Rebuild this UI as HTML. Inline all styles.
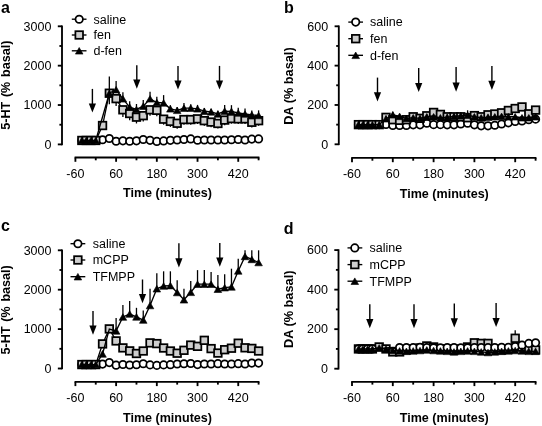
<!DOCTYPE html>
<html><head><meta charset="utf-8"><style>
html,body{margin:0;padding:0;background:#fff;}
svg{display:block;filter:blur(0.3px);}
text{font-family:"Liberation Sans",sans-serif;fill:#000;}
.pl{font-size:16px;font-weight:bold;}
.tk{font-size:12.5px;}
.lg{font-size:12.5px;}
.tt{font-size:12.55px;font-weight:bold;}
.ty{font-size:12.6px;font-weight:bold;word-spacing:1.2px;}
.ty2{font-size:12.75px;font-weight:bold;}
.ax{stroke:#000;stroke-width:1.85;fill:none;}
.ln{stroke:#000;stroke-width:1.35;fill:none;}
.eb{stroke:#000;stroke-width:1.3;fill:none;}
.ar{stroke:#000;stroke-width:1.4;fill:none;}
.ah{fill:#000;}
.mc{fill:#fff;stroke:#000;stroke-width:1.75;}
.ms{fill:#cecece;stroke:#000;stroke-width:1.75;}
.mt{fill:#000;stroke:#000;stroke-width:0.6;stroke-linejoin:miter;}
</style></head><body>
<svg width="542" height="426" viewBox="0 0 542 426">
<rect width="542" height="426" fill="#fff"/>
<text x="1" y="13.3" class="pl">a</text>
<path d="M62 25.5V145.2" class="ax"/>
<path d="M57.8 144.4H62" class="ax"/>
<text x="51.4" y="148.7" class="tk" text-anchor="end">0</text>
<path d="M57.8 105.03H62" class="ax"/>
<text x="51.4" y="109.33" class="tk" text-anchor="end">1000</text>
<path d="M57.8 65.67H62" class="ax"/>
<text x="51.4" y="69.97" class="tk" text-anchor="end">2000</text>
<path d="M57.8 26.3H62" class="ax"/>
<text x="51.4" y="30.6" class="tk" text-anchor="end">3000</text>
<path d="M59.4 124.72H62" class="ax"/>
<path d="M59.4 85.35H62" class="ax"/>
<path d="M59.4 45.98H62" class="ax"/>
<text transform="translate(10.3 85.2) rotate(-90)" class="ty" text-anchor="middle">5-HT (% basal)</text>
<path d="M74.6 157.5H259.4" class="ax"/>
<path d="M75.4 157.5V161.8" class="ax"/>
<text x="75.4" y="177.8" class="tk" text-anchor="middle">-60</text>
<path d="M95.76 157.5V160.3" class="ax"/>
<path d="M116.11 157.5V161.8" class="ax"/>
<text x="116.11" y="177.8" class="tk" text-anchor="middle">60</text>
<path d="M136.47 157.5V160.3" class="ax"/>
<path d="M156.82 157.5V161.8" class="ax"/>
<text x="156.82" y="177.8" class="tk" text-anchor="middle">180</text>
<path d="M177.18 157.5V160.3" class="ax"/>
<path d="M197.53 157.5V161.8" class="ax"/>
<text x="197.53" y="177.8" class="tk" text-anchor="middle">300</text>
<path d="M217.89 157.5V160.3" class="ax"/>
<path d="M238.24 157.5V161.8" class="ax"/>
<text x="238.24" y="177.8" class="tk" text-anchor="middle">420</text>
<path d="M258.6 157.5V160.3" class="ax"/>
<text x="167.5" y="197.4" class="tt" text-anchor="middle">Time (minutes)</text>
<path d="M71.8 19.2H86.5" class="ln"/>
<circle cx="79.2" cy="19.2" r="3.7" class="mc"/>
<text x="93.5" y="23.55" class="lg">saline</text>
<path d="M71.8 35H86.5" class="ln"/>
<rect x="75.4" y="31.2" width="7.6" height="7.6" class="ms"/>
<text x="93.5" y="39.35" class="lg">fen</text>
<path d="M71.8 50.8H86.5" class="ln"/>
<path d="M79.2 47.5L83 54.1L75.4 54.1Z" class="mt"/>
<text x="93.5" y="55.15" class="lg">d-fen</text>
<path d="M92.4 88.9V106.6" class="ar"/>
<path d="M88.8 103.4L96 103.4L92.4 112.6Z" class="ah"/>
<path d="M136.8 65.2V82.8" class="ar"/>
<path d="M133.2 79.6L140.4 79.6L136.8 88.8Z" class="ah"/>
<path d="M178 65.9V83.6" class="ar"/>
<path d="M174.4 80.4L181.6 80.4L178 89.6Z" class="ah"/>
<path d="M219.5 65.9V83.6" class="ar"/>
<path d="M215.9 80.4L223.1 80.4L219.5 89.6Z" class="ah"/>
<path d="M81.85 140.46L86.26 140.46L91.01 140.46L95.76 140.46L102.54 139.79L109.33 138.5L116.11 141.21L122.9 140.82L129.68 141.21L136.47 140.82L143.25 139.48L150.04 140.31L156.82 141.41L163.61 140.9L170.39 140.31L177.18 139.99L183.96 139.52L190.75 138.89L197.53 140.27L204.32 139.99L211.1 139.99L217.89 139.99L224.67 139.99L231.46 139.72L238.24 139.52L245.03 139.99L251.81 139.12L258.6 138.89" class="ln"/>
<circle cx="81.85" cy="140.46" r="3.7" class="mc"/>
<circle cx="86.26" cy="140.46" r="3.7" class="mc"/>
<circle cx="91.01" cy="140.46" r="3.7" class="mc"/>
<circle cx="95.76" cy="140.46" r="3.7" class="mc"/>
<circle cx="102.54" cy="139.79" r="3.7" class="mc"/>
<circle cx="109.33" cy="138.5" r="3.7" class="mc"/>
<circle cx="116.11" cy="141.21" r="3.7" class="mc"/>
<circle cx="122.9" cy="140.82" r="3.7" class="mc"/>
<circle cx="129.68" cy="141.21" r="3.7" class="mc"/>
<circle cx="136.47" cy="140.82" r="3.7" class="mc"/>
<circle cx="143.25" cy="139.48" r="3.7" class="mc"/>
<circle cx="150.04" cy="140.31" r="3.7" class="mc"/>
<circle cx="156.82" cy="141.41" r="3.7" class="mc"/>
<circle cx="163.61" cy="140.9" r="3.7" class="mc"/>
<circle cx="170.39" cy="140.31" r="3.7" class="mc"/>
<circle cx="177.18" cy="139.99" r="3.7" class="mc"/>
<circle cx="183.96" cy="139.52" r="3.7" class="mc"/>
<circle cx="190.75" cy="138.89" r="3.7" class="mc"/>
<circle cx="197.53" cy="140.27" r="3.7" class="mc"/>
<circle cx="204.32" cy="139.99" r="3.7" class="mc"/>
<circle cx="211.1" cy="139.99" r="3.7" class="mc"/>
<circle cx="217.89" cy="139.99" r="3.7" class="mc"/>
<circle cx="224.67" cy="139.99" r="3.7" class="mc"/>
<circle cx="231.46" cy="139.72" r="3.7" class="mc"/>
<circle cx="238.24" cy="139.52" r="3.7" class="mc"/>
<circle cx="245.03" cy="139.99" r="3.7" class="mc"/>
<circle cx="251.81" cy="139.12" r="3.7" class="mc"/>
<circle cx="258.6" cy="138.89" r="3.7" class="mc"/>
<path d="M102.54 125.54V129.48" class="eb"/>
<path d="M109.33 93.22V104.25" class="eb"/>
<path d="M116.11 98.62V105.9" class="eb"/>
<path d="M122.9 109.8V116.88" class="eb"/>
<path d="M129.68 113.5V120.19" class="eb"/>
<path d="M136.47 117.16V123.46" class="eb"/>
<path d="M143.25 115.66V121.57" class="eb"/>
<path d="M150.04 109.8V115.7" class="eb"/>
<path d="M156.82 110.31V116.21" class="eb"/>
<path d="M163.61 119.17V124.68" class="eb"/>
<path d="M170.39 121.37V126.88" class="eb"/>
<path d="M177.18 123.26V128.77" class="eb"/>
<path d="M183.96 119.56V124.68" class="eb"/>
<path d="M190.75 119.56V124.68" class="eb"/>
<path d="M197.53 118.85V123.97" class="eb"/>
<path d="M204.32 120.66V125.78" class="eb"/>
<path d="M211.1 122.08V127.2" class="eb"/>
<path d="M217.89 123.46V128.57" class="eb"/>
<path d="M224.67 120.07V125.19" class="eb"/>
<path d="M231.46 118.58V123.69" class="eb"/>
<path d="M238.24 118.85V123.97" class="eb"/>
<path d="M245.03 118.85V123.97" class="eb"/>
<path d="M251.81 122.28V127.39" class="eb"/>
<path d="M258.6 120.66V125.78" class="eb"/>
<path d="M81.85 140.46L86.26 140.46L91.01 140.46L95.76 140.46L102.54 125.54L109.33 93.22L116.11 98.62L122.9 109.8L129.68 113.5L136.47 117.16L143.25 115.66L150.04 109.8L156.82 110.31L163.61 119.17L170.39 121.37L177.18 123.26L183.96 119.56L190.75 119.56L197.53 118.85L204.32 120.66L211.1 122.08L217.89 123.46L224.67 120.07L231.46 118.58L238.24 118.85L245.03 118.85L251.81 122.28L258.6 120.66" class="ln"/>
<rect x="78.05" y="136.66" width="7.6" height="7.6" class="ms"/>
<rect x="82.46" y="136.66" width="7.6" height="7.6" class="ms"/>
<rect x="87.21" y="136.66" width="7.6" height="7.6" class="ms"/>
<rect x="91.96" y="136.66" width="7.6" height="7.6" class="ms"/>
<rect x="98.74" y="121.74" width="7.6" height="7.6" class="ms"/>
<rect x="105.53" y="89.42" width="7.6" height="7.6" class="ms"/>
<rect x="112.31" y="94.82" width="7.6" height="7.6" class="ms"/>
<rect x="119.1" y="106" width="7.6" height="7.6" class="ms"/>
<rect x="125.88" y="109.7" width="7.6" height="7.6" class="ms"/>
<rect x="132.67" y="113.36" width="7.6" height="7.6" class="ms"/>
<rect x="139.45" y="111.86" width="7.6" height="7.6" class="ms"/>
<rect x="146.24" y="106" width="7.6" height="7.6" class="ms"/>
<rect x="153.02" y="106.51" width="7.6" height="7.6" class="ms"/>
<rect x="159.81" y="115.37" width="7.6" height="7.6" class="ms"/>
<rect x="166.59" y="117.57" width="7.6" height="7.6" class="ms"/>
<rect x="173.38" y="119.46" width="7.6" height="7.6" class="ms"/>
<rect x="180.16" y="115.76" width="7.6" height="7.6" class="ms"/>
<rect x="186.95" y="115.76" width="7.6" height="7.6" class="ms"/>
<rect x="193.73" y="115.05" width="7.6" height="7.6" class="ms"/>
<rect x="200.52" y="116.86" width="7.6" height="7.6" class="ms"/>
<rect x="207.3" y="118.28" width="7.6" height="7.6" class="ms"/>
<rect x="214.09" y="119.66" width="7.6" height="7.6" class="ms"/>
<rect x="220.87" y="116.27" width="7.6" height="7.6" class="ms"/>
<rect x="227.66" y="114.78" width="7.6" height="7.6" class="ms"/>
<rect x="234.44" y="115.05" width="7.6" height="7.6" class="ms"/>
<rect x="241.23" y="115.05" width="7.6" height="7.6" class="ms"/>
<rect x="248.01" y="118.48" width="7.6" height="7.6" class="ms"/>
<rect x="254.8" y="116.86" width="7.6" height="7.6" class="ms"/>
<path d="M109.33 93.22V76.57" class="eb"/>
<path d="M116.11 89.68V80.9" class="eb"/>
<path d="M122.9 98.81V92.36" class="eb"/>
<path d="M129.68 107.08V101.18" class="eb"/>
<path d="M136.47 109.48V103.97" class="eb"/>
<path d="M143.25 106.14V99.96" class="eb"/>
<path d="M150.04 98.81V91.81" class="eb"/>
<path d="M156.82 102.51V96.73" class="eb"/>
<path d="M163.61 102.91V95.11" class="eb"/>
<path d="M170.39 108.81V105.27" class="eb"/>
<path d="M177.18 110.31V107.16" class="eb"/>
<path d="M183.96 108.1V102.91" class="eb"/>
<path d="M190.75 108.1V104.17" class="eb"/>
<path d="M197.53 108.81V104.88" class="eb"/>
<path d="M204.32 111.21V108.06" class="eb"/>
<path d="M211.1 111.88V108.73" class="eb"/>
<path d="M217.89 113.97V110.82" class="eb"/>
<path d="M224.67 111.1V104.92" class="eb"/>
<path d="M231.46 111.33V105.15" class="eb"/>
<path d="M238.24 112.99V107.87" class="eb"/>
<path d="M245.03 113.97V108.46" class="eb"/>
<path d="M251.81 114.88V110.54" class="eb"/>
<path d="M258.6 115.47V110.35" class="eb"/>
<path d="M81.85 140.46L86.26 140.46L91.01 140.46L95.76 140.46L109.33 93.22L116.11 89.68L122.9 98.81L129.68 107.08L136.47 109.48L143.25 106.14L150.04 98.81L156.82 102.51L163.61 102.91L170.39 108.81L177.18 110.31L183.96 108.1L190.75 108.1L197.53 108.81L204.32 111.21L211.1 111.88L217.89 113.97L224.67 111.1L231.46 111.33L238.24 112.99L245.03 113.97L251.81 114.88L258.6 115.47" class="ln"/>
<path d="M81.85 137.16L85.65 143.76L78.05 143.76Z" class="mt"/>
<path d="M86.26 137.16L90.06 143.76L82.46 143.76Z" class="mt"/>
<path d="M91.01 137.16L94.81 143.76L87.21 143.76Z" class="mt"/>
<path d="M95.76 137.16L99.56 143.76L91.96 143.76Z" class="mt"/>
<path d="M109.33 89.92L113.13 96.52L105.53 96.52Z" class="mt"/>
<path d="M116.11 86.38L119.91 92.98L112.31 92.98Z" class="mt"/>
<path d="M122.9 95.51L126.7 102.11L119.1 102.11Z" class="mt"/>
<path d="M129.68 103.78L133.48 110.38L125.88 110.38Z" class="mt"/>
<path d="M136.47 106.18L140.27 112.78L132.67 112.78Z" class="mt"/>
<path d="M143.25 102.84L147.05 109.44L139.45 109.44Z" class="mt"/>
<path d="M150.04 95.51L153.84 102.11L146.24 102.11Z" class="mt"/>
<path d="M156.82 99.21L160.62 105.81L153.02 105.81Z" class="mt"/>
<path d="M163.61 99.61L167.41 106.21L159.81 106.21Z" class="mt"/>
<path d="M170.39 105.51L174.19 112.11L166.59 112.11Z" class="mt"/>
<path d="M177.18 107.01L180.98 113.61L173.38 113.61Z" class="mt"/>
<path d="M183.96 104.8L187.76 111.4L180.16 111.4Z" class="mt"/>
<path d="M190.75 104.8L194.55 111.4L186.95 111.4Z" class="mt"/>
<path d="M197.53 105.51L201.33 112.11L193.73 112.11Z" class="mt"/>
<path d="M204.32 107.91L208.12 114.51L200.52 114.51Z" class="mt"/>
<path d="M211.1 108.58L214.9 115.18L207.3 115.18Z" class="mt"/>
<path d="M217.89 110.67L221.69 117.27L214.09 117.27Z" class="mt"/>
<path d="M224.67 107.8L228.47 114.4L220.87 114.4Z" class="mt"/>
<path d="M231.46 108.03L235.26 114.63L227.66 114.63Z" class="mt"/>
<path d="M238.24 109.69L242.04 116.29L234.44 116.29Z" class="mt"/>
<path d="M245.03 110.67L248.83 117.27L241.23 117.27Z" class="mt"/>
<path d="M251.81 111.58L255.61 118.17L248.01 118.17Z" class="mt"/>
<path d="M258.6 112.17L262.4 118.77L254.8 118.77Z" class="mt"/>
<text x="284" y="13.3" class="pl">b</text>
<path d="M338.8 25.5V145.1" class="ax"/>
<path d="M334.6 144.3H338.8" class="ax"/>
<text x="328.2" y="148.6" class="tk" text-anchor="end">0</text>
<path d="M334.6 104.97H338.8" class="ax"/>
<text x="328.2" y="109.27" class="tk" text-anchor="end">200</text>
<path d="M334.6 65.63H338.8" class="ax"/>
<text x="328.2" y="69.93" class="tk" text-anchor="end">400</text>
<path d="M334.6 26.3H338.8" class="ax"/>
<text x="328.2" y="30.6" class="tk" text-anchor="end">600</text>
<path d="M336.2 124.63H338.8" class="ax"/>
<path d="M336.2 85.3H338.8" class="ax"/>
<path d="M336.2 45.97H338.8" class="ax"/>
<text transform="translate(293.3 86.1) rotate(-90)" class="ty2" text-anchor="middle">DA (% basal)</text>
<path d="M351.2 157.9H536.4" class="ax"/>
<path d="M352 157.9V162.2" class="ax"/>
<text x="352" y="178.2" class="tk" text-anchor="middle">-60</text>
<path d="M372.4 157.9V160.7" class="ax"/>
<path d="M392.8 157.9V162.2" class="ax"/>
<text x="392.8" y="178.2" class="tk" text-anchor="middle">60</text>
<path d="M413.2 157.9V160.7" class="ax"/>
<path d="M433.6 157.9V162.2" class="ax"/>
<text x="433.6" y="178.2" class="tk" text-anchor="middle">180</text>
<path d="M454 157.9V160.7" class="ax"/>
<path d="M474.4 157.9V162.2" class="ax"/>
<text x="474.4" y="178.2" class="tk" text-anchor="middle">300</text>
<path d="M494.8 157.9V160.7" class="ax"/>
<path d="M515.2 157.9V162.2" class="ax"/>
<text x="515.2" y="178.2" class="tk" text-anchor="middle">420</text>
<path d="M535.6 157.9V160.7" class="ax"/>
<text x="444.3" y="197.8" class="tt" text-anchor="middle">Time (minutes)</text>
<path d="M348.3 22.1H363" class="ln"/>
<circle cx="355.7" cy="22.1" r="3.7" class="mc"/>
<text x="370" y="26.45" class="lg">saline</text>
<path d="M348.3 38.7H363" class="ln"/>
<rect x="351.9" y="34.9" width="7.6" height="7.6" class="ms"/>
<text x="370" y="43.05" class="lg">fen</text>
<path d="M348.3 55.3H363" class="ln"/>
<path d="M355.7 52L359.5 58.6L351.9 58.6Z" class="mt"/>
<text x="370" y="59.65" class="lg">d-fen</text>
<path d="M377.5 77.6V95.5" class="ar"/>
<path d="M373.9 92.3L381.1 92.3L377.5 101.5Z" class="ah"/>
<path d="M418.7 68.1V86.1" class="ar"/>
<path d="M415.1 82.9L422.3 82.9L418.7 92.1Z" class="ah"/>
<path d="M456.1 67.1V85.8" class="ar"/>
<path d="M452.5 82.6L459.7 82.6L456.1 91.8Z" class="ah"/>
<path d="M491.9 65.9V84" class="ar"/>
<path d="M488.3 80.8L495.5 80.8L491.9 90Z" class="ah"/>
<path d="M358.46 124.63L362.88 124.63L367.64 124.63L372.4 124.63L379.2 124.63L386 124.44L392.8 125.42L399.6 125.42L406.4 125.42L413.2 124.83L420 124.83L426.8 123.26L433.6 124.63L440.4 124.63L447.2 124.83L454 124.83L460.8 124.04L467.6 123.26L474.4 124.83L481.2 125.81L488 125.81L494.8 125.22L501.6 124.04L508.4 122.86L515.2 121.49L522 120.9L528.8 119.72L535.6 119.13" class="ln"/>
<circle cx="358.46" cy="124.63" r="3.7" class="mc"/>
<circle cx="362.88" cy="124.63" r="3.7" class="mc"/>
<circle cx="367.64" cy="124.63" r="3.7" class="mc"/>
<circle cx="372.4" cy="124.63" r="3.7" class="mc"/>
<circle cx="379.2" cy="124.63" r="3.7" class="mc"/>
<circle cx="386" cy="124.44" r="3.7" class="mc"/>
<circle cx="392.8" cy="125.42" r="3.7" class="mc"/>
<circle cx="399.6" cy="125.42" r="3.7" class="mc"/>
<circle cx="406.4" cy="125.42" r="3.7" class="mc"/>
<circle cx="413.2" cy="124.83" r="3.7" class="mc"/>
<circle cx="420" cy="124.83" r="3.7" class="mc"/>
<circle cx="426.8" cy="123.26" r="3.7" class="mc"/>
<circle cx="433.6" cy="124.63" r="3.7" class="mc"/>
<circle cx="440.4" cy="124.63" r="3.7" class="mc"/>
<circle cx="447.2" cy="124.83" r="3.7" class="mc"/>
<circle cx="454" cy="124.83" r="3.7" class="mc"/>
<circle cx="460.8" cy="124.04" r="3.7" class="mc"/>
<circle cx="467.6" cy="123.26" r="3.7" class="mc"/>
<circle cx="474.4" cy="124.83" r="3.7" class="mc"/>
<circle cx="481.2" cy="125.81" r="3.7" class="mc"/>
<circle cx="488" cy="125.81" r="3.7" class="mc"/>
<circle cx="494.8" cy="125.22" r="3.7" class="mc"/>
<circle cx="501.6" cy="124.04" r="3.7" class="mc"/>
<circle cx="508.4" cy="122.86" r="3.7" class="mc"/>
<circle cx="515.2" cy="121.49" r="3.7" class="mc"/>
<circle cx="522" cy="120.9" r="3.7" class="mc"/>
<circle cx="528.8" cy="119.72" r="3.7" class="mc"/>
<circle cx="535.6" cy="119.13" r="3.7" class="mc"/>
<path d="M379.2 124.63V126.21" class="eb"/>
<path d="M386 117.36V118.93" class="eb"/>
<path d="M392.8 119.72V121.29" class="eb"/>
<path d="M399.6 120.31V121.88" class="eb"/>
<path d="M406.4 119.72V121.29" class="eb"/>
<path d="M413.2 116.77V118.34" class="eb"/>
<path d="M420 118.34V119.91" class="eb"/>
<path d="M426.8 115.78V117.36" class="eb"/>
<path d="M433.6 112.44V114.01" class="eb"/>
<path d="M440.4 114.41V115.98" class="eb"/>
<path d="M447.2 116.77V118.34" class="eb"/>
<path d="M454 116.77V118.34" class="eb"/>
<path d="M460.8 116.77V118.34" class="eb"/>
<path d="M467.6 117.75V119.32" class="eb"/>
<path d="M474.4 115.59V117.16" class="eb"/>
<path d="M481.2 116.77V118.34" class="eb"/>
<path d="M488 114.8V116.37" class="eb"/>
<path d="M494.8 114.01V115.59" class="eb"/>
<path d="M501.6 112.83V114.41" class="eb"/>
<path d="M508.4 110.47V112.05" class="eb"/>
<path d="M515.2 108.51V110.08" class="eb"/>
<path d="M522 106.93V108.51" class="eb"/>
<path d="M528.8 113.82V115.39" class="eb"/>
<path d="M535.6 110.08V111.65" class="eb"/>
<path d="M358.46 124.63L362.88 124.63L367.64 124.63L372.4 124.63L379.2 124.63L386 117.36L392.8 119.72L399.6 120.31L406.4 119.72L413.2 116.77L420 118.34L426.8 115.78L433.6 112.44L440.4 114.41L447.2 116.77L454 116.77L460.8 116.77L467.6 117.75L474.4 115.59L481.2 116.77L488 114.8L494.8 114.01L501.6 112.83L508.4 110.47L515.2 108.51L522 106.93L528.8 113.82L535.6 110.08" class="ln"/>
<rect x="354.66" y="120.83" width="7.6" height="7.6" class="ms"/>
<rect x="359.08" y="120.83" width="7.6" height="7.6" class="ms"/>
<rect x="363.84" y="120.83" width="7.6" height="7.6" class="ms"/>
<rect x="368.6" y="120.83" width="7.6" height="7.6" class="ms"/>
<rect x="375.4" y="120.83" width="7.6" height="7.6" class="ms"/>
<rect x="382.2" y="113.56" width="7.6" height="7.6" class="ms"/>
<rect x="389" y="115.92" width="7.6" height="7.6" class="ms"/>
<rect x="395.8" y="116.51" width="7.6" height="7.6" class="ms"/>
<rect x="402.6" y="115.92" width="7.6" height="7.6" class="ms"/>
<rect x="409.4" y="112.97" width="7.6" height="7.6" class="ms"/>
<rect x="416.2" y="114.54" width="7.6" height="7.6" class="ms"/>
<rect x="423" y="111.98" width="7.6" height="7.6" class="ms"/>
<rect x="429.8" y="108.64" width="7.6" height="7.6" class="ms"/>
<rect x="436.6" y="110.61" width="7.6" height="7.6" class="ms"/>
<rect x="443.4" y="112.97" width="7.6" height="7.6" class="ms"/>
<rect x="450.2" y="112.97" width="7.6" height="7.6" class="ms"/>
<rect x="457" y="112.97" width="7.6" height="7.6" class="ms"/>
<rect x="463.8" y="113.95" width="7.6" height="7.6" class="ms"/>
<rect x="470.6" y="111.79" width="7.6" height="7.6" class="ms"/>
<rect x="477.4" y="112.97" width="7.6" height="7.6" class="ms"/>
<rect x="484.2" y="111" width="7.6" height="7.6" class="ms"/>
<rect x="491" y="110.21" width="7.6" height="7.6" class="ms"/>
<rect x="497.8" y="109.03" width="7.6" height="7.6" class="ms"/>
<rect x="504.6" y="106.67" width="7.6" height="7.6" class="ms"/>
<rect x="511.4" y="104.71" width="7.6" height="7.6" class="ms"/>
<rect x="518.2" y="103.13" width="7.6" height="7.6" class="ms"/>
<rect x="525" y="110.02" width="7.6" height="7.6" class="ms"/>
<rect x="531.8" y="106.28" width="7.6" height="7.6" class="ms"/>
<path d="M379.2 124.63V122.67" class="eb"/>
<path d="M386 118.73V115.78" class="eb"/>
<path d="M392.8 114.8V111.85" class="eb"/>
<path d="M399.6 116.37V114.01" class="eb"/>
<path d="M406.4 118.34V116.37" class="eb"/>
<path d="M413.2 117.75V115.78" class="eb"/>
<path d="M420 118.34V116.37" class="eb"/>
<path d="M426.8 116.77V114.41" class="eb"/>
<path d="M433.6 116.77V114.41" class="eb"/>
<path d="M440.4 117.75V115.78" class="eb"/>
<path d="M447.2 117.16V114.8" class="eb"/>
<path d="M454 116.37V113.42" class="eb"/>
<path d="M460.8 115.78V112.24" class="eb"/>
<path d="M467.6 115.19V110.28" class="eb"/>
<path d="M474.4 116.77V114.41" class="eb"/>
<path d="M481.2 117.75V115.78" class="eb"/>
<path d="M488 117.16V115.19" class="eb"/>
<path d="M494.8 116.77V114.8" class="eb"/>
<path d="M501.6 116.37V114.01" class="eb"/>
<path d="M508.4 116.77V114.41" class="eb"/>
<path d="M515.2 116.77V114.41" class="eb"/>
<path d="M522 117.75V115.39" class="eb"/>
<path d="M528.8 117.75V115.39" class="eb"/>
<path d="M535.6 116.77V114.41" class="eb"/>
<path d="M358.46 124.63L362.88 124.63L367.64 124.63L372.4 124.63L379.2 124.63L386 118.73L392.8 114.8L399.6 116.37L406.4 118.34L413.2 117.75L420 118.34L426.8 116.77L433.6 116.77L440.4 117.75L447.2 117.16L454 116.37L460.8 115.78L467.6 115.19L474.4 116.77L481.2 117.75L488 117.16L494.8 116.77L501.6 116.37L508.4 116.77L515.2 116.77L522 117.75L528.8 117.75L535.6 116.77" class="ln"/>
<path d="M358.46 121.33L362.26 127.93L354.66 127.93Z" class="mt"/>
<path d="M362.88 121.33L366.68 127.93L359.08 127.93Z" class="mt"/>
<path d="M367.64 121.33L371.44 127.93L363.84 127.93Z" class="mt"/>
<path d="M372.4 121.33L376.2 127.93L368.6 127.93Z" class="mt"/>
<path d="M379.2 121.33L383 127.93L375.4 127.93Z" class="mt"/>
<path d="M386 115.43L389.8 122.03L382.2 122.03Z" class="mt"/>
<path d="M392.8 111.5L396.6 118.1L389 118.1Z" class="mt"/>
<path d="M399.6 113.07L403.4 119.67L395.8 119.67Z" class="mt"/>
<path d="M406.4 115.04L410.2 121.64L402.6 121.64Z" class="mt"/>
<path d="M413.2 114.45L417 121.05L409.4 121.05Z" class="mt"/>
<path d="M420 115.04L423.8 121.64L416.2 121.64Z" class="mt"/>
<path d="M426.8 113.47L430.6 120.07L423 120.07Z" class="mt"/>
<path d="M433.6 113.47L437.4 120.07L429.8 120.07Z" class="mt"/>
<path d="M440.4 114.45L444.2 121.05L436.6 121.05Z" class="mt"/>
<path d="M447.2 113.86L451 120.46L443.4 120.46Z" class="mt"/>
<path d="M454 113.07L457.8 119.67L450.2 119.67Z" class="mt"/>
<path d="M460.8 112.48L464.6 119.08L457 119.08Z" class="mt"/>
<path d="M467.6 111.89L471.4 118.49L463.8 118.49Z" class="mt"/>
<path d="M474.4 113.47L478.2 120.07L470.6 120.07Z" class="mt"/>
<path d="M481.2 114.45L485 121.05L477.4 121.05Z" class="mt"/>
<path d="M488 113.86L491.8 120.46L484.2 120.46Z" class="mt"/>
<path d="M494.8 113.47L498.6 120.07L491 120.07Z" class="mt"/>
<path d="M501.6 113.07L505.4 119.67L497.8 119.67Z" class="mt"/>
<path d="M508.4 113.47L512.2 120.07L504.6 120.07Z" class="mt"/>
<path d="M515.2 113.47L519 120.07L511.4 120.07Z" class="mt"/>
<path d="M522 114.45L525.8 121.05L518.2 121.05Z" class="mt"/>
<path d="M528.8 114.45L532.6 121.05L525 121.05Z" class="mt"/>
<path d="M535.6 113.47L539.4 120.07L531.8 120.07Z" class="mt"/>
<text x="0.9" y="231" class="pl">c</text>
<path d="M62.05 249.5V369.3" class="ax"/>
<path d="M57.85 368.5H62.05" class="ax"/>
<text x="51.45" y="372.8" class="tk" text-anchor="end">0</text>
<path d="M57.85 329.1H62.05" class="ax"/>
<text x="51.45" y="333.4" class="tk" text-anchor="end">1000</text>
<path d="M57.85 289.7H62.05" class="ax"/>
<text x="51.45" y="294" class="tk" text-anchor="end">2000</text>
<path d="M57.85 250.3H62.05" class="ax"/>
<text x="51.45" y="254.6" class="tk" text-anchor="end">3000</text>
<path d="M59.45 348.8H62.05" class="ax"/>
<path d="M59.45 309.4H62.05" class="ax"/>
<path d="M59.45 270H62.05" class="ax"/>
<text transform="translate(10.3 309.8) rotate(-90)" class="ty" text-anchor="middle">5-HT (% basal)</text>
<path d="M74.6 381.8H259.4" class="ax"/>
<path d="M75.4 381.8V386.1" class="ax"/>
<text x="75.4" y="402.1" class="tk" text-anchor="middle">-60</text>
<path d="M95.76 381.8V384.6" class="ax"/>
<path d="M116.11 381.8V386.1" class="ax"/>
<text x="116.11" y="402.1" class="tk" text-anchor="middle">60</text>
<path d="M136.47 381.8V384.6" class="ax"/>
<path d="M156.82 381.8V386.1" class="ax"/>
<text x="156.82" y="402.1" class="tk" text-anchor="middle">180</text>
<path d="M177.18 381.8V384.6" class="ax"/>
<path d="M197.53 381.8V386.1" class="ax"/>
<text x="197.53" y="402.1" class="tk" text-anchor="middle">300</text>
<path d="M217.89 381.8V384.6" class="ax"/>
<path d="M238.24 381.8V386.1" class="ax"/>
<text x="238.24" y="402.1" class="tk" text-anchor="middle">420</text>
<path d="M258.6 381.8V384.6" class="ax"/>
<text x="167.5" y="421.7" class="tt" text-anchor="middle">Time (minutes)</text>
<path d="M70.5 243.7H85.3" class="ln"/>
<circle cx="77.9" cy="243.7" r="3.7" class="mc"/>
<text x="92.7" y="248.05" class="lg">saline</text>
<path d="M70.5 260H85.3" class="ln"/>
<rect x="74.1" y="256.2" width="7.6" height="7.6" class="ms"/>
<text x="92.7" y="264.35" class="lg">mCPP</text>
<path d="M70.5 276.7H85.3" class="ln"/>
<path d="M77.9 273.4L81.7 280L74.1 280Z" class="mt"/>
<text x="92.7" y="281.05" class="lg">TFMPP</text>
<path d="M93 311V328.7" class="ar"/>
<path d="M89.4 325.5L96.6 325.5L93 334.7Z" class="ah"/>
<path d="M142.5 279.5V297.2" class="ar"/>
<path d="M138.9 294L146.1 294L142.5 303.2Z" class="ah"/>
<path d="M178.9 243.3V261.4" class="ar"/>
<path d="M175.3 258.2L182.5 258.2L178.9 267.4Z" class="ah"/>
<path d="M219.8 243V260.7" class="ar"/>
<path d="M216.2 257.5L223.4 257.5L219.8 266.7Z" class="ah"/>
<path d="M81.85 364.56L86.26 364.56L91.01 364.56L95.76 364.56L102.54 364.09L109.33 362.59L116.11 365.19L122.9 364.48L129.68 364.99L136.47 364.8L143.25 363.77L150.04 364.88L156.82 365.39L163.61 364.88L170.39 364.64L177.18 364.01L183.96 363.73L190.75 363.5L197.53 364.56L204.32 364.01L211.1 364.01L217.89 363.69L224.67 364.01L231.46 364.01L238.24 363.69L245.03 364.01L251.81 363.1L258.6 363.1" class="ln"/>
<circle cx="81.85" cy="364.56" r="3.7" class="mc"/>
<circle cx="86.26" cy="364.56" r="3.7" class="mc"/>
<circle cx="91.01" cy="364.56" r="3.7" class="mc"/>
<circle cx="95.76" cy="364.56" r="3.7" class="mc"/>
<circle cx="102.54" cy="364.09" r="3.7" class="mc"/>
<circle cx="109.33" cy="362.59" r="3.7" class="mc"/>
<circle cx="116.11" cy="365.19" r="3.7" class="mc"/>
<circle cx="122.9" cy="364.48" r="3.7" class="mc"/>
<circle cx="129.68" cy="364.99" r="3.7" class="mc"/>
<circle cx="136.47" cy="364.8" r="3.7" class="mc"/>
<circle cx="143.25" cy="363.77" r="3.7" class="mc"/>
<circle cx="150.04" cy="364.88" r="3.7" class="mc"/>
<circle cx="156.82" cy="365.39" r="3.7" class="mc"/>
<circle cx="163.61" cy="364.88" r="3.7" class="mc"/>
<circle cx="170.39" cy="364.64" r="3.7" class="mc"/>
<circle cx="177.18" cy="364.01" r="3.7" class="mc"/>
<circle cx="183.96" cy="363.73" r="3.7" class="mc"/>
<circle cx="190.75" cy="363.5" r="3.7" class="mc"/>
<circle cx="197.53" cy="364.56" r="3.7" class="mc"/>
<circle cx="204.32" cy="364.01" r="3.7" class="mc"/>
<circle cx="211.1" cy="364.01" r="3.7" class="mc"/>
<circle cx="217.89" cy="363.69" r="3.7" class="mc"/>
<circle cx="224.67" cy="364.01" r="3.7" class="mc"/>
<circle cx="231.46" cy="364.01" r="3.7" class="mc"/>
<circle cx="238.24" cy="363.69" r="3.7" class="mc"/>
<circle cx="245.03" cy="364.01" r="3.7" class="mc"/>
<circle cx="251.81" cy="363.1" r="3.7" class="mc"/>
<circle cx="258.6" cy="363.1" r="3.7" class="mc"/>
<path d="M102.54 343.91V346.67" class="eb"/>
<path d="M109.33 328.9V331.66" class="eb"/>
<path d="M116.11 340.92V343.68" class="eb"/>
<path d="M122.9 347.89V350.65" class="eb"/>
<path d="M129.68 350.89V353.65" class="eb"/>
<path d="M136.47 353.49V356.25" class="eb"/>
<path d="M143.25 351.01V353.76" class="eb"/>
<path d="M150.04 342.89V345.65" class="eb"/>
<path d="M156.82 343.6V346.36" class="eb"/>
<path d="M163.61 348.01V350.77" class="eb"/>
<path d="M170.39 351.01V353.76" class="eb"/>
<path d="M177.18 353.21V355.97" class="eb"/>
<path d="M183.96 350.3V353.06" class="eb"/>
<path d="M190.75 345.1V347.85" class="eb"/>
<path d="M197.53 346.32V349.08" class="eb"/>
<path d="M204.32 340.33V343.09" class="eb"/>
<path d="M211.1 348.6V351.36" class="eb"/>
<path d="M217.89 353.06V355.81" class="eb"/>
<path d="M224.67 349.71V352.46" class="eb"/>
<path d="M231.46 348.21V350.97" class="eb"/>
<path d="M238.24 343.21V345.96" class="eb"/>
<path d="M245.03 347.81V350.57" class="eb"/>
<path d="M251.81 348.41V351.16" class="eb"/>
<path d="M258.6 351.01V353.76" class="eb"/>
<path d="M81.85 364.56L86.26 364.56L91.01 364.56L95.76 364.56L102.54 343.91L109.33 328.9L116.11 340.92L122.9 347.89L129.68 350.89L136.47 353.49L143.25 351.01L150.04 342.89L156.82 343.6L163.61 348.01L170.39 351.01L177.18 353.21L183.96 350.3L190.75 345.1L197.53 346.32L204.32 340.33L211.1 348.6L217.89 353.06L224.67 349.71L231.46 348.21L238.24 343.21L245.03 347.81L251.81 348.41L258.6 351.01" class="ln"/>
<rect x="78.05" y="360.76" width="7.6" height="7.6" class="ms"/>
<rect x="82.46" y="360.76" width="7.6" height="7.6" class="ms"/>
<rect x="87.21" y="360.76" width="7.6" height="7.6" class="ms"/>
<rect x="91.96" y="360.76" width="7.6" height="7.6" class="ms"/>
<rect x="98.74" y="340.11" width="7.6" height="7.6" class="ms"/>
<rect x="105.53" y="325.1" width="7.6" height="7.6" class="ms"/>
<rect x="112.31" y="337.12" width="7.6" height="7.6" class="ms"/>
<rect x="119.1" y="344.09" width="7.6" height="7.6" class="ms"/>
<rect x="125.88" y="347.09" width="7.6" height="7.6" class="ms"/>
<rect x="132.67" y="349.69" width="7.6" height="7.6" class="ms"/>
<rect x="139.45" y="347.21" width="7.6" height="7.6" class="ms"/>
<rect x="146.24" y="339.09" width="7.6" height="7.6" class="ms"/>
<rect x="153.02" y="339.8" width="7.6" height="7.6" class="ms"/>
<rect x="159.81" y="344.21" width="7.6" height="7.6" class="ms"/>
<rect x="166.59" y="347.21" width="7.6" height="7.6" class="ms"/>
<rect x="173.38" y="349.41" width="7.6" height="7.6" class="ms"/>
<rect x="180.16" y="346.5" width="7.6" height="7.6" class="ms"/>
<rect x="186.95" y="341.3" width="7.6" height="7.6" class="ms"/>
<rect x="193.73" y="342.52" width="7.6" height="7.6" class="ms"/>
<rect x="200.52" y="336.53" width="7.6" height="7.6" class="ms"/>
<rect x="207.3" y="344.8" width="7.6" height="7.6" class="ms"/>
<rect x="214.09" y="349.26" width="7.6" height="7.6" class="ms"/>
<rect x="220.87" y="345.91" width="7.6" height="7.6" class="ms"/>
<rect x="227.66" y="344.41" width="7.6" height="7.6" class="ms"/>
<rect x="234.44" y="339.41" width="7.6" height="7.6" class="ms"/>
<rect x="241.23" y="344.01" width="7.6" height="7.6" class="ms"/>
<rect x="248.01" y="344.61" width="7.6" height="7.6" class="ms"/>
<rect x="254.8" y="347.21" width="7.6" height="7.6" class="ms"/>
<path d="M102.54 353.92V350.77" class="eb"/>
<path d="M116.11 330.91V317.91" class="eb"/>
<path d="M122.9 317V304.99" class="eb"/>
<path d="M129.68 314.01V301.01" class="eb"/>
<path d="M136.47 316.89V307.82" class="eb"/>
<path d="M143.25 320V310.54" class="eb"/>
<path d="M150.04 305.5V288.75" class="eb"/>
<path d="M156.82 288.72V273.35" class="eb"/>
<path d="M163.61 286V271.3" class="eb"/>
<path d="M170.39 285.6V271.3" class="eb"/>
<path d="M177.18 292.5V280.24" class="eb"/>
<path d="M183.96 299.79V288.79" class="eb"/>
<path d="M190.75 292.3V281.03" class="eb"/>
<path d="M197.53 284.18V270.12" class="eb"/>
<path d="M204.32 284.18V270.12" class="eb"/>
<path d="M211.1 284.18V272.01" class="eb"/>
<path d="M217.89 289.19V275" class="eb"/>
<path d="M224.67 287.69V274.33" class="eb"/>
<path d="M231.46 286.9V268.7" class="eb"/>
<path d="M238.24 270.91V258.81" class="eb"/>
<path d="M245.03 256.41V250.3" class="eb"/>
<path d="M251.81 259.4V250.3" class="eb"/>
<path d="M258.6 262.51V250.3" class="eb"/>
<path d="M81.85 364.56L86.26 364.56L91.01 364.56L95.76 364.56L102.54 353.92L109.33 329.1L116.11 330.91L122.9 317L129.68 314.01L136.47 316.89L143.25 320L150.04 305.5L156.82 288.72L163.61 286L170.39 285.6L177.18 292.5L183.96 299.79L190.75 292.3L197.53 284.18L204.32 284.18L211.1 284.18L217.89 289.19L224.67 287.69L231.46 286.9L238.24 270.91L245.03 256.41L251.81 259.4L258.6 262.51" class="ln"/>
<path d="M81.85 361.26L85.65 367.86L78.05 367.86Z" class="mt"/>
<path d="M86.26 361.26L90.06 367.86L82.46 367.86Z" class="mt"/>
<path d="M91.01 361.26L94.81 367.86L87.21 367.86Z" class="mt"/>
<path d="M95.76 361.26L99.56 367.86L91.96 367.86Z" class="mt"/>
<path d="M102.54 350.62L106.34 357.22L98.74 357.22Z" class="mt"/>
<path d="M116.11 327.61L119.91 334.21L112.31 334.21Z" class="mt"/>
<path d="M122.9 313.7L126.7 320.3L119.1 320.3Z" class="mt"/>
<path d="M129.68 310.71L133.48 317.31L125.88 317.31Z" class="mt"/>
<path d="M136.47 313.59L140.27 320.19L132.67 320.19Z" class="mt"/>
<path d="M143.25 316.7L147.05 323.3L139.45 323.3Z" class="mt"/>
<path d="M150.04 302.2L153.84 308.8L146.24 308.8Z" class="mt"/>
<path d="M156.82 285.42L160.62 292.02L153.02 292.02Z" class="mt"/>
<path d="M163.61 282.7L167.41 289.3L159.81 289.3Z" class="mt"/>
<path d="M170.39 282.3L174.19 288.9L166.59 288.9Z" class="mt"/>
<path d="M177.18 289.2L180.98 295.8L173.38 295.8Z" class="mt"/>
<path d="M183.96 296.49L187.76 303.09L180.16 303.09Z" class="mt"/>
<path d="M190.75 289L194.55 295.6L186.95 295.6Z" class="mt"/>
<path d="M197.53 280.88L201.33 287.48L193.73 287.48Z" class="mt"/>
<path d="M204.32 280.88L208.12 287.48L200.52 287.48Z" class="mt"/>
<path d="M211.1 280.88L214.9 287.48L207.3 287.48Z" class="mt"/>
<path d="M217.89 285.89L221.69 292.49L214.09 292.49Z" class="mt"/>
<path d="M224.67 284.39L228.47 290.99L220.87 290.99Z" class="mt"/>
<path d="M231.46 283.6L235.26 290.2L227.66 290.2Z" class="mt"/>
<path d="M238.24 267.61L242.04 274.21L234.44 274.21Z" class="mt"/>
<path d="M245.03 253.11L248.83 259.71L241.23 259.71Z" class="mt"/>
<path d="M251.81 256.1L255.61 262.7L248.01 262.7Z" class="mt"/>
<path d="M258.6 259.21L262.4 265.81L254.8 265.81Z" class="mt"/>
<text x="283.8" y="233.5" class="pl">d</text>
<path d="M338.5 249.3V369.5" class="ax"/>
<path d="M334.3 368.7H338.5" class="ax"/>
<text x="327.9" y="373" class="tk" text-anchor="end">0</text>
<path d="M334.3 329.17H338.5" class="ax"/>
<text x="327.9" y="333.47" class="tk" text-anchor="end">200</text>
<path d="M334.3 289.63H338.5" class="ax"/>
<text x="327.9" y="293.93" class="tk" text-anchor="end">400</text>
<path d="M334.3 250.1H338.5" class="ax"/>
<text x="327.9" y="254.4" class="tk" text-anchor="end">600</text>
<path d="M335.9 348.93H338.5" class="ax"/>
<path d="M335.9 309.4H338.5" class="ax"/>
<path d="M335.9 269.87H338.5" class="ax"/>
<text transform="translate(293.3 309.3) rotate(-90)" class="ty2" text-anchor="middle">DA (% basal)</text>
<path d="M351.2 381.8H536.4" class="ax"/>
<path d="M352 381.8V386.1" class="ax"/>
<text x="352" y="402.1" class="tk" text-anchor="middle">-60</text>
<path d="M372.4 381.8V384.6" class="ax"/>
<path d="M392.8 381.8V386.1" class="ax"/>
<text x="392.8" y="402.1" class="tk" text-anchor="middle">60</text>
<path d="M413.2 381.8V384.6" class="ax"/>
<path d="M433.6 381.8V386.1" class="ax"/>
<text x="433.6" y="402.1" class="tk" text-anchor="middle">180</text>
<path d="M454 381.8V384.6" class="ax"/>
<path d="M474.4 381.8V386.1" class="ax"/>
<text x="474.4" y="402.1" class="tk" text-anchor="middle">300</text>
<path d="M494.8 381.8V384.6" class="ax"/>
<path d="M515.2 381.8V386.1" class="ax"/>
<text x="515.2" y="402.1" class="tk" text-anchor="middle">420</text>
<path d="M535.6 381.8V384.6" class="ax"/>
<text x="444.3" y="421.7" class="tt" text-anchor="middle">Time (minutes)</text>
<path d="M347.5 247.9H362.3" class="ln"/>
<circle cx="354.8" cy="247.9" r="3.7" class="mc"/>
<text x="369.6" y="252.25" class="lg">saline</text>
<path d="M347.5 264.6H362.3" class="ln"/>
<rect x="351" y="260.8" width="7.6" height="7.6" class="ms"/>
<text x="369.6" y="268.95" class="lg">mCPP</text>
<path d="M347.5 281.2H362.3" class="ln"/>
<path d="M354.8 277.9L358.6 284.5L351 284.5Z" class="mt"/>
<text x="369.6" y="285.55" class="lg">TFMPP</text>
<path d="M369.8 304.2V322.3" class="ar"/>
<path d="M366.2 319.1L373.4 319.1L369.8 328.3Z" class="ah"/>
<path d="M414 304.2V322.3" class="ar"/>
<path d="M410.4 319.1L417.6 319.1L414 328.3Z" class="ah"/>
<path d="M454.3 303.6V321.5" class="ar"/>
<path d="M450.7 318.3L457.9 318.3L454.3 327.5Z" class="ah"/>
<path d="M496.1 303.1V321.1" class="ar"/>
<path d="M492.5 317.9L499.7 317.9L496.1 327.1Z" class="ah"/>
<path d="M379.2 346.96V347.94" class="eb"/>
<path d="M386 348.93V349.92" class="eb"/>
<path d="M392.8 351.9V352.89" class="eb"/>
<path d="M399.6 351.9V352.89" class="eb"/>
<path d="M406.4 349.92V350.91" class="eb"/>
<path d="M413.2 348.93V349.92" class="eb"/>
<path d="M420 347.94V348.93" class="eb"/>
<path d="M426.8 345.97V346.96" class="eb"/>
<path d="M433.6 346.96V347.94" class="eb"/>
<path d="M440.4 348.93V349.92" class="eb"/>
<path d="M447.2 348.93V349.92" class="eb"/>
<path d="M454 349.92V350.91" class="eb"/>
<path d="M460.8 348.93V349.92" class="eb"/>
<path d="M467.6 346.96V347.94" class="eb"/>
<path d="M474.4 342.81V343.79" class="eb"/>
<path d="M481.2 343.4V344.39" class="eb"/>
<path d="M488 343.4V344.39" class="eb"/>
<path d="M494.8 348.93V349.92" class="eb"/>
<path d="M501.6 349.92V350.91" class="eb"/>
<path d="M508.4 348.93V349.92" class="eb"/>
<path d="M515.2 338.26V330.15" class="eb"/>
<path d="M522 346.96V347.94" class="eb"/>
<path d="M528.8 348.93V349.92" class="eb"/>
<path d="M535.6 349.92V350.91" class="eb"/>
<path d="M358.46 348.93L362.88 348.93L367.64 348.93L372.4 348.93L379.2 346.96L386 348.93L392.8 351.9L399.6 351.9L406.4 349.92L413.2 348.93L420 347.94L426.8 345.97L433.6 346.96L440.4 348.93L447.2 348.93L454 349.92L460.8 348.93L467.6 346.96L474.4 342.81L481.2 343.4L488 343.4L494.8 348.93L501.6 349.92L508.4 348.93L515.2 338.26L522 346.96L528.8 348.93L535.6 349.92" class="ln"/>
<rect x="354.66" y="345.13" width="7.6" height="7.6" class="ms"/>
<rect x="359.08" y="345.13" width="7.6" height="7.6" class="ms"/>
<rect x="363.84" y="345.13" width="7.6" height="7.6" class="ms"/>
<rect x="368.6" y="345.13" width="7.6" height="7.6" class="ms"/>
<rect x="375.4" y="343.16" width="7.6" height="7.6" class="ms"/>
<rect x="382.2" y="345.13" width="7.6" height="7.6" class="ms"/>
<rect x="389" y="348.1" width="7.6" height="7.6" class="ms"/>
<rect x="395.8" y="348.1" width="7.6" height="7.6" class="ms"/>
<rect x="402.6" y="346.12" width="7.6" height="7.6" class="ms"/>
<rect x="409.4" y="345.13" width="7.6" height="7.6" class="ms"/>
<rect x="416.2" y="344.14" width="7.6" height="7.6" class="ms"/>
<rect x="423" y="342.17" width="7.6" height="7.6" class="ms"/>
<rect x="429.8" y="343.16" width="7.6" height="7.6" class="ms"/>
<rect x="436.6" y="345.13" width="7.6" height="7.6" class="ms"/>
<rect x="443.4" y="345.13" width="7.6" height="7.6" class="ms"/>
<rect x="450.2" y="346.12" width="7.6" height="7.6" class="ms"/>
<rect x="457" y="345.13" width="7.6" height="7.6" class="ms"/>
<rect x="463.8" y="343.16" width="7.6" height="7.6" class="ms"/>
<rect x="470.6" y="339.01" width="7.6" height="7.6" class="ms"/>
<rect x="477.4" y="339.6" width="7.6" height="7.6" class="ms"/>
<rect x="484.2" y="339.6" width="7.6" height="7.6" class="ms"/>
<rect x="491" y="345.13" width="7.6" height="7.6" class="ms"/>
<rect x="497.8" y="346.12" width="7.6" height="7.6" class="ms"/>
<rect x="504.6" y="345.13" width="7.6" height="7.6" class="ms"/>
<rect x="511.4" y="334.46" width="7.6" height="7.6" class="ms"/>
<rect x="518.2" y="343.16" width="7.6" height="7.6" class="ms"/>
<rect x="525" y="345.13" width="7.6" height="7.6" class="ms"/>
<rect x="531.8" y="346.12" width="7.6" height="7.6" class="ms"/>
<path d="M358.46 348.93L362.88 348.93L367.64 348.93L372.4 348.93L379.2 348.93L386 347.94L392.8 347.35L399.6 347.55L406.4 347.55L413.2 347.55L420 347.35L426.8 347.55L433.6 347.75L440.4 347.75L447.2 347.55L454 347.55L460.8 347.75L467.6 347.75L474.4 347.55L481.2 347.55L488 347.55L494.8 347.55L501.6 347.35L508.4 347.35L515.2 346.56L522 345.18L528.8 343.4L535.6 342.81" class="ln"/>
<circle cx="358.46" cy="348.93" r="3.7" class="mc"/>
<circle cx="362.88" cy="348.93" r="3.7" class="mc"/>
<circle cx="367.64" cy="348.93" r="3.7" class="mc"/>
<circle cx="372.4" cy="348.93" r="3.7" class="mc"/>
<circle cx="399.6" cy="347.55" r="3.7" class="mc"/>
<circle cx="406.4" cy="347.55" r="3.7" class="mc"/>
<circle cx="413.2" cy="347.55" r="3.7" class="mc"/>
<circle cx="420" cy="347.35" r="3.7" class="mc"/>
<circle cx="426.8" cy="347.55" r="3.7" class="mc"/>
<circle cx="433.6" cy="347.75" r="3.7" class="mc"/>
<circle cx="440.4" cy="347.75" r="3.7" class="mc"/>
<circle cx="447.2" cy="347.55" r="3.7" class="mc"/>
<circle cx="454" cy="347.55" r="3.7" class="mc"/>
<circle cx="460.8" cy="347.75" r="3.7" class="mc"/>
<circle cx="467.6" cy="347.75" r="3.7" class="mc"/>
<circle cx="474.4" cy="347.55" r="3.7" class="mc"/>
<circle cx="481.2" cy="347.55" r="3.7" class="mc"/>
<circle cx="488" cy="347.55" r="3.7" class="mc"/>
<circle cx="494.8" cy="347.55" r="3.7" class="mc"/>
<circle cx="501.6" cy="347.35" r="3.7" class="mc"/>
<circle cx="508.4" cy="347.35" r="3.7" class="mc"/>
<circle cx="515.2" cy="346.56" r="3.7" class="mc"/>
<circle cx="522" cy="345.18" r="3.7" class="mc"/>
<circle cx="528.8" cy="343.4" r="3.7" class="mc"/>
<circle cx="535.6" cy="342.81" r="3.7" class="mc"/>
<path d="M379.2 347.94V346.76" class="eb"/>
<path d="M386 348.93V347.75" class="eb"/>
<path d="M392.8 350.51V349.33" class="eb"/>
<path d="M399.6 350.91V349.72" class="eb"/>
<path d="M406.4 351.31V350.12" class="eb"/>
<path d="M413.2 350.91V349.72" class="eb"/>
<path d="M420 350.51V349.33" class="eb"/>
<path d="M426.8 349.92V348.74" class="eb"/>
<path d="M433.6 350.51V349.33" class="eb"/>
<path d="M440.4 350.91V349.72" class="eb"/>
<path d="M447.2 351.31V350.12" class="eb"/>
<path d="M454 351.9V350.71" class="eb"/>
<path d="M460.8 351.31V350.12" class="eb"/>
<path d="M467.6 350.91V349.72" class="eb"/>
<path d="M474.4 351.31V350.12" class="eb"/>
<path d="M481.2 351.9V350.71" class="eb"/>
<path d="M488 352.49V351.31" class="eb"/>
<path d="M494.8 351.9V350.71" class="eb"/>
<path d="M501.6 351.31V350.12" class="eb"/>
<path d="M508.4 350.91V349.72" class="eb"/>
<path d="M515.2 350.51V349.33" class="eb"/>
<path d="M522 350.91V349.72" class="eb"/>
<path d="M528.8 351.31V350.12" class="eb"/>
<path d="M535.6 351.31V350.12" class="eb"/>
<path d="M358.46 348.93L362.88 348.93L367.64 348.93L372.4 348.93L379.2 347.94L386 348.93L392.8 350.51L399.6 350.91L406.4 351.31L413.2 350.91L420 350.51L426.8 349.92L433.6 350.51L440.4 350.91L447.2 351.31L454 351.9L460.8 351.31L467.6 350.91L474.4 351.31L481.2 351.9L488 352.49L494.8 351.9L501.6 351.31L508.4 350.91L515.2 350.51L522 350.91L528.8 351.31L535.6 351.31" class="ln"/>
<path d="M358.46 345.63L362.26 352.23L354.66 352.23Z" class="mt"/>
<path d="M362.88 345.63L366.68 352.23L359.08 352.23Z" class="mt"/>
<path d="M367.64 345.63L371.44 352.23L363.84 352.23Z" class="mt"/>
<path d="M372.4 345.63L376.2 352.23L368.6 352.23Z" class="mt"/>
<path d="M379.2 344.64L383 351.25L375.4 351.25Z" class="mt"/>
<path d="M386 345.63L389.8 352.23L382.2 352.23Z" class="mt"/>
<path d="M392.8 347.21L396.6 353.81L389 353.81Z" class="mt"/>
<path d="M399.6 347.61L403.4 354.21L395.8 354.21Z" class="mt"/>
<path d="M406.4 348.01L410.2 354.61L402.6 354.61Z" class="mt"/>
<path d="M413.2 347.61L417 354.21L409.4 354.21Z" class="mt"/>
<path d="M420 347.21L423.8 353.81L416.2 353.81Z" class="mt"/>
<path d="M426.8 346.62L430.6 353.22L423 353.22Z" class="mt"/>
<path d="M433.6 347.21L437.4 353.81L429.8 353.81Z" class="mt"/>
<path d="M440.4 347.61L444.2 354.21L436.6 354.21Z" class="mt"/>
<path d="M447.2 348.01L451 354.61L443.4 354.61Z" class="mt"/>
<path d="M454 348.6L457.8 355.2L450.2 355.2Z" class="mt"/>
<path d="M460.8 348.01L464.6 354.61L457 354.61Z" class="mt"/>
<path d="M467.6 347.61L471.4 354.21L463.8 354.21Z" class="mt"/>
<path d="M474.4 348.01L478.2 354.61L470.6 354.61Z" class="mt"/>
<path d="M481.2 348.6L485 355.2L477.4 355.2Z" class="mt"/>
<path d="M488 349.19L491.8 355.79L484.2 355.79Z" class="mt"/>
<path d="M494.8 348.6L498.6 355.2L491 355.2Z" class="mt"/>
<path d="M501.6 348.01L505.4 354.61L497.8 354.61Z" class="mt"/>
<path d="M508.4 347.61L512.2 354.21L504.6 354.21Z" class="mt"/>
<path d="M515.2 347.21L519 353.81L511.4 353.81Z" class="mt"/>
<path d="M522 347.61L525.8 354.21L518.2 354.21Z" class="mt"/>
<path d="M528.8 348.01L532.6 354.61L525 354.61Z" class="mt"/>
<path d="M535.6 348.01L539.4 354.61L531.8 354.61Z" class="mt"/>
</svg>
</body></html>
